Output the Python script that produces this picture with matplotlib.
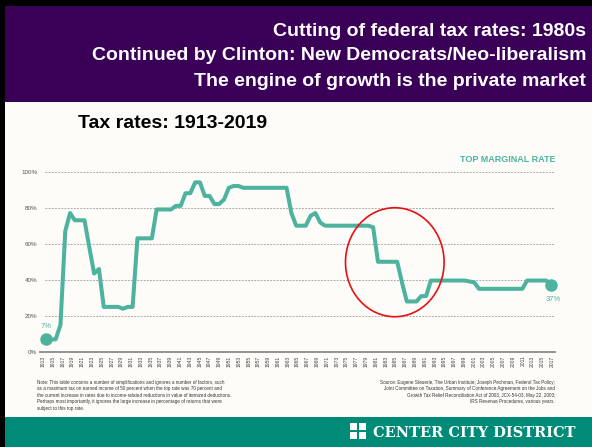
import numpy as np
import matplotlib
matplotlib.use("Agg")
import matplotlib.pyplot as plt
from matplotlib.patches import Rectangle, Ellipse

# ---------------- data ----------------
years = list(range(1913, 2019))
rates = ([7, 7, 7, 15, 67, 77, 73, 73, 73, 58, 43.5, 46,
          25, 25, 25, 25, 24, 25, 25,
          63, 63, 63, 63, 79, 79, 79, 79, 81, 81, 88, 88, 94, 94,
          86.5, 86.5, 82, 82, 84.5, 91, 92, 92]
         + [91] * 10
         + [77, 70, 70, 70, 75.5, 77, 71.75]
         + [70] * 10 + [69.1]
         + [50] * 5
         + [38.5, 28, 28, 28, 31, 31]
         + [39.6] * 8
         + [39.1, 38.6]
         + [35] * 10
         + [39.6] * 5
         + [37])
ytick_vals = [0, 20, 40, 60, 80, 100]
ytick_labels = ["0%", "20%", "40%", "60%", "80%", "100%"]
xtick_labels = [str(y) for y in range(1913, 2018, 2)]

title_lines = ["Cutting of federal tax rates: 1980s",
               "Continued by Clinton: New Democrats/Neo-liberalism",
               "The engine of growth is the private market"]
subtitle = "Tax rates: 1913-2019"
note_text = ("Note: This table contains a number of simplifications and ignores a number of factors, such\n"
             "as a maximum tax on earned income of 50 percent when the top rate was 70 percent and\n"
             "the current increase in rates due to income-related reductions in value of itemized deductions.\n"
             "Perhaps most importantly, it ignores the large increase in percentage of returns that were\n"
             "subject to this top rate.")
source_text = ("Source: Eugene Steuerle, The Urban Institute; Joseph Pechman, Federal Tax Policy;\n"
               "Joint Committee on Taxation, Summary of Conference Agreement on the Jobs and\n"
               "Growth Tax Relief Reconciliation Act of 2003, JCX-54-03, May 22, 2003;\n"
               "IRS Revenue Procedures, various years.")

assert len(rates) == len(years)

# ---------------- figure ----------------
W, H = 592, 447
fig = plt.figure(figsize=(W / 100, H / 100), dpi=100)
fig.patch.set_facecolor("#fdfcf8")

def fx(x):
    return x / W

def fy(y):
    return 1 - y / H

def rect(x0, y0, x1, y1, color, z=0):
    fig.add_artist(Rectangle((fx(x0), fy(y1)), fx(x1) - fx(x0), fy(y0) - fy(y1),
                             transform=fig.transFigure, facecolor=color,
                             edgecolor="none", zorder=z))

PURPLE = "#3a0058"
TEAL = "#4db39f"
FOOT = "#008a78"

rect(0, 0, W, H, "#fdfcf8", 0)
rect(0, 0, W, 6, "#000000", 1)
rect(0, 0, 5, H, "#000000", 1)
rect(5, 6, W, 102, PURPLE, 1)
rect(5, 417, W, H, FOOT, 1)

sans = ["Liberation Sans", "DejaVu Sans"]
narrow = ["Liberation Sans Narrow", "Liberation Sans", "DejaVu Sans"]

for i, t in enumerate(title_lines):
    fig.text(fx(586), fy(31 + i * 25), t, color="white", fontsize=14,
             fontweight="bold", family=sans, ha="right", va="center", zorder=3)

fig.text(fx(78), fy(124), subtitle, color="black", fontsize=14,
         fontweight="bold", family=sans, ha="left", va="center", zorder=3)

fig.text(fx(555), fy(159), "TOP MARGINAL RATE", color=TEAL, fontsize=6.5,
         fontweight="bold", family=narrow, ha="right", va="center", zorder=3)

# ---------------- axes ----------------
ax = fig.add_axes([fx(40), fy(352), fx(555) - fx(40), fy(160) - fy(352)])
ax.set_facecolor("none")
ax.set_xlim(1911.75, 2018.8)
ax.set_ylim(0, 106.4)
for s in ["top", "right", "left"]:
    ax.spines[s].set_visible(False)
ax.spines["bottom"].set_color("#8a8a8a")
ax.spines["bottom"].set_linewidth(1.3)

ax.hlines(ytick_vals[1:], 1912.8, 2018.8, colors="#9a9a9a", linewidth=0.6,
          linestyles=(0, (2.2, 1.6)), zorder=1)

ax.set_yticks(ytick_vals)
ax.set_yticklabels(ytick_labels, fontsize=4.5, color="#555555", family=narrow)
ax.tick_params(axis="y", length=0, pad=2)

xt = np.linspace(1912.4, 2018.2, len(xtick_labels))
ax.set_xticks(xt)
ax.set_xticklabels(xtick_labels, rotation=90, fontsize=3.6, color="#444444",
                   family=narrow)
ax.tick_params(axis="x", length=0, pad=2.5)

ax.plot(years, rates, color=TEAL, linewidth=2.9, solid_joinstyle="round",
        zorder=3, clip_on=False)
ax.plot([years[0], years[-1]], [rates[0], rates[-1]], "o", color=TEAL,
        markersize=8, zorder=4, clip_on=False)
ax.annotate("7%", (years[0], rates[0]), xytext=(0, 9), textcoords="offset points",
            fontsize=5.5, color=TEAL, ha="center", va="center", family=narrow)
ax.annotate("37%", (years[-1], rates[-1]), xytext=(1.5, -10), textcoords="offset points",
            fontsize=5.5, color=TEAL, ha="center", va="center", family=narrow)

ax.add_patch(Ellipse((1985.5, 49.75), 20.5, 60.4, fill=False, edgecolor="#e81010",
                     linewidth=1.2, zorder=5, clip_on=False))

# ---------------- notes ----------------
fig.text(fx(37), fy(380), note_text, fontsize=3.3, color="#333333", family=narrow,
         ha="left", va="top", linespacing=1.35, zorder=3)
fig.text(fx(555), fy(380), source_text, fontsize=3.3, color="#333333", family=narrow,
         ha="right", va="top", linespacing=1.35, multialignment="right", zorder=3)

# ---------------- footer logo ----------------
for (x0, y0) in [(350, 423), (359, 423), (350, 432), (359, 432)]:
    rect(x0, y0, x0 + 7, y0 + 7, "white", 3)
fig.text(fx(373), fy(433), "CENTER CITY DISTRICT", color="white", fontsize=10.5,
         fontweight="bold", family=["DejaVu Serif"], ha="left", va="center", zorder=3)

fig.savefig("out.png", dpi=100, facecolor=fig.get_facecolor())
